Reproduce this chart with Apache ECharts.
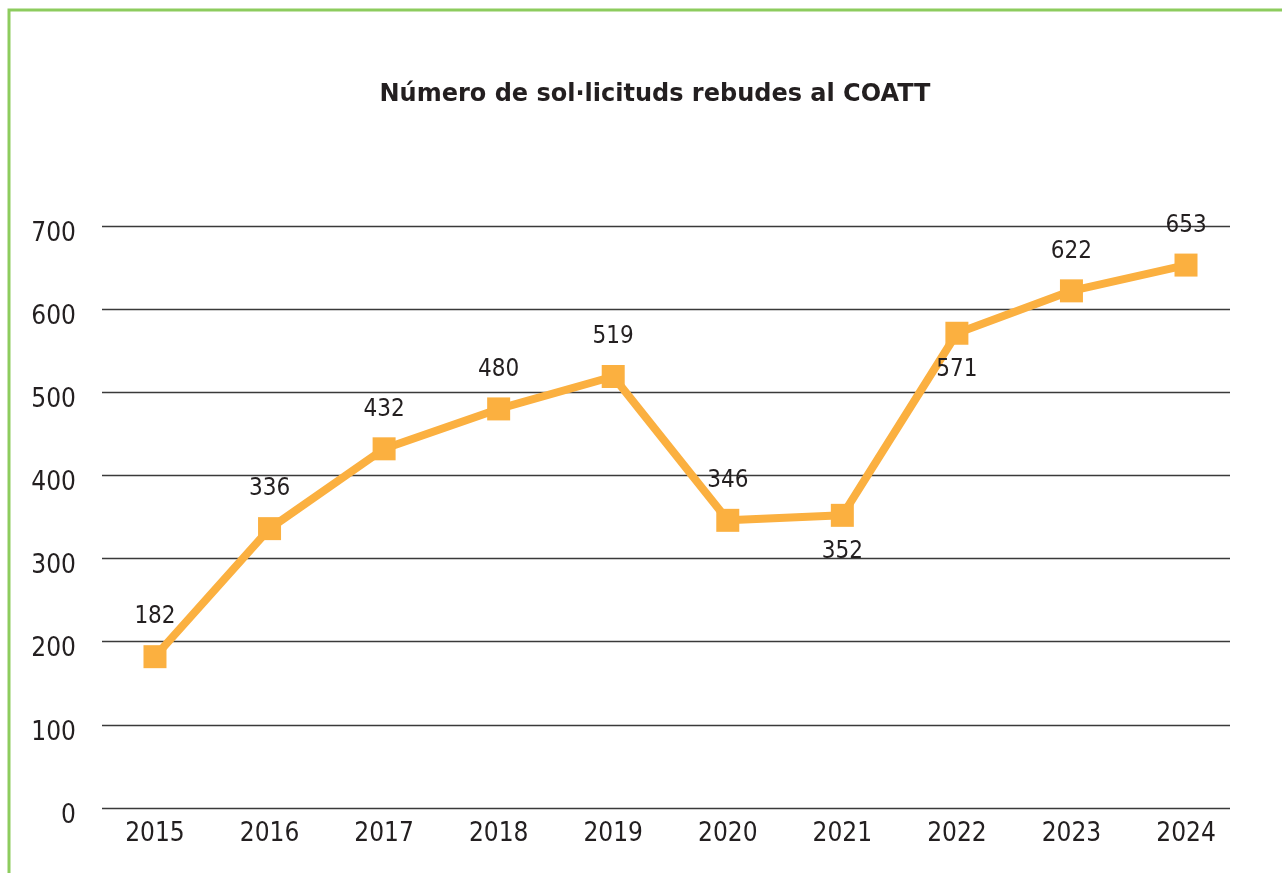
<!DOCTYPE html>
<html>
<head>
<meta charset="utf-8">
<script src="https://cdn.jsdelivr.net/npm/echarts@6/dist/echarts.min.js"></script>
<style>
  html, body { margin: 0; padding: 0; background: #ffffff; }
  #chart { width: 1282px; height: 873px; }
</style>
</head>
<body>
<div id="chart"></div>
<script>
const titleText = 'Número de sol·licituds rebudes al COATT';
const years = ['2015', '2016', '2017', '2018', '2019', '2020', '2021', '2022', '2023', '2024'];
const requests = [182, 336, 432, 480, 519, 346, 352, 571, 622, 653];
const labelPositions = ['top', 'top', 'top', 'top', 'top', 'top', 'bottom', 'bottom', 'top', 'top'];
const yTicks = [0, 100, 200, 300, 400, 500, 600, 700];

const numFont = '"Liberation Sans Narrow", "DejaVu Sans Condensed", sans-serif';
const textColor = '#231F20';
const orange = '#FBB040';

const chart = echarts.init(document.getElementById('chart'), null, { renderer: 'canvas' });

const seriesData = years.map((y, i) => ({
  value: [Number(y), requests[i]],
  label: {
    position: labelPositions[i],
    distance: labelPositions[i] === 'top' ? 16 : 13
  }
}));

chart.setOption({
  backgroundColor: '#ffffff',
  animation: false,
  title: {
    text: titleText,
    left: 650,
    top: 78,
    textAlign: 'center',
    textStyle: {
      fontFamily: '"DejaVu Sans", sans-serif',
      fontWeight: 'bold',
      fontSize: 24,
      color: textColor
    }
  },
  graphic: [{
    type: 'rect',
    shape: { x: 9, y: 10, width: 3000, height: 3000 },
    style: { fill: 'none', stroke: '#8DCC5E', lineWidth: 3 },
    silent: true
  }],
  grid: { left: 102, right: 52, top: 226, bottom: 65, containLabel: false },
  xAxis: {
    type: 'value',
    min: Number(years[0]) - 0.4625,
    max: Number(years[years.length - 1]) + 0.384,
    axisLine: { show: false },
    axisTick: { show: false },
    splitLine: { show: false },
    axisLabel: {
      customValues: years.map(Number),
      formatter: v => String(v),
      color: textColor,
      fontFamily: numFont,
      fontSize: 26,
      margin: 13
    }
  },
  yAxis: {
    type: 'value',
    min: 0,
    max: 700,
    interval: 100,
    axisLine: { show: false },
    axisTick: { show: false },
    splitLine: { show: true, lineStyle: { color: '#3a3a3a', width: 1.3 } },
    axisLabel: {
      customValues: yTicks,
      color: textColor,
      fontFamily: numFont,
      fontSize: 26,
      margin: 26,
      align: 'right',
      verticalAlign: 'top',
      lineHeight: 16
    }
  },
  series: [{
    type: 'line',
    data: seriesData,
    symbol: 'rect',
    symbolSize: 23,
    lineStyle: { color: orange, width: 8 },
    itemStyle: { color: orange },
    label: {
      show: true,
      formatter: p => String(p.value[1]),
      color: textColor,
      fontFamily: numFont,
      fontSize: 24
    }
  }]
});
</script>
</body>
</html>
